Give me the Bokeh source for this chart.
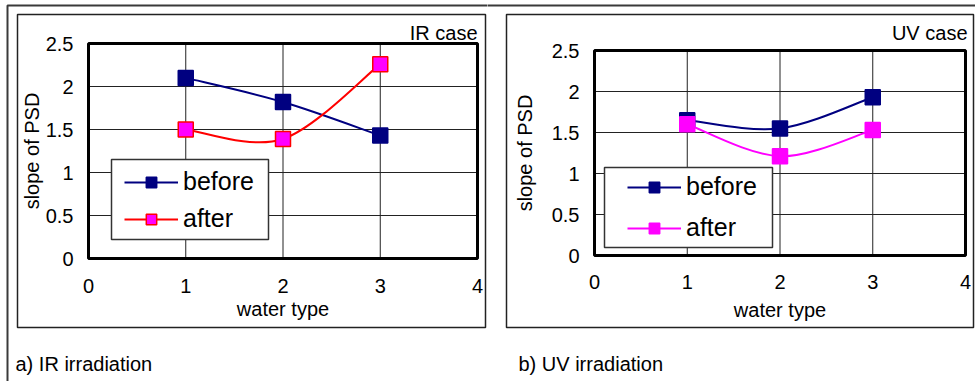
from bokeh.plotting import figure
from bokeh.layouts import row
from bokeh.models import (Range1d, FixedTicker, BoxAnnotation, Label, Legend, LegendItem,
                          ColumnDataSource)
from bokeh.embed import file_html
from bokeh.resources import INLINE

# ---- data ----
water_type = [1, 2, 3]
ir_before = [2.10, 1.82, 1.43]
ir_after = [1.50, 1.39, 2.26]
uv_before = [1.65, 1.55, 1.93]
uv_after = [1.60, 1.21, 1.53]
x_ticks = [0, 1, 2, 3, 4]
y_ticks = [0, 0.5, 1, 1.5, 2, 2.5]

FONT = "Liberation Sans"
NAVY = "#000080"
MAGENTA = "#FF00FF"
RED = "#FF0000"
H = 381


def smooth_segments(xs, ys):
    """Catmull-Rom style Bezier control points (Excel-like smoothed line)."""
    n = len(xs)
    d = dict(x0=[], y0=[], x1=[], y1=[], cx0=[], cy0=[], cx1=[], cy1=[])
    for i in range(n - 1):
        xp, yp = (xs[i - 1], ys[i - 1]) if i > 0 else (xs[i], ys[i])
        xn, yn = (xs[i + 2], ys[i + 2]) if i + 2 < n else (xs[i + 1], ys[i + 1])
        d["x0"].append(xs[i]); d["y0"].append(ys[i])
        d["x1"].append(xs[i + 1]); d["y1"].append(ys[i + 1])
        d["cx0"].append(xs[i] + (xs[i + 1] - xp) / 6.0)
        d["cy0"].append(ys[i] + (ys[i + 1] - yp) / 6.0)
        d["cx1"].append(xs[i + 1] - (xn - xs[i]) / 6.0)
        d["cy1"].append(ys[i + 1] - (yn - ys[i]) / 6.0)
    return ColumnDataSource(d)


def box(left, right, top, bottom, color, width, fill=None):
    return BoxAnnotation(left=left, right=right, top=top, bottom=bottom,
                         fill_color=fill, fill_alpha=1 if fill else 0,
                         line_color=color, line_alpha=1, line_width=width)


def panel(W, area, series, case_text, case_px, caption, cap_px, frame_px, outer_px,
          legend_px, legend_box_px, legend_spacing, xl_standoff, xa_standoff,
          yl_standoff, ya_standoff):
    xl, xr, yt, yb = area  # pixel position of x=0, x=4, y=2.5, y=0 inside this figure
    xmin, xmax = x_ticks[0], x_ticks[-1]
    ymin, ymax = y_ticks[0], y_ticks[-1]
    ppx = (xr - xl) / (xmax - xmin)
    ppy = (yb - yt) / (ymax - ymin)

    def X(px):
        return xmin + (px - xl) / ppx

    def Y(py):
        return ymin + (yb - py) / ppy

    p = figure(width=W, height=H, output_backend="svg", toolbar_location=None,
               x_range=Range1d(X(0), X(W)), y_range=Range1d(Y(H), Y(0)),
               min_border_left=0, min_border_right=0, min_border_top=0,
               min_border_bottom=0)
    p.background_fill_color = "white"
    p.border_fill_color = "white"
    p.outline_line_color = None
    p.grid.visible = False

    p.xaxis.ticker = FixedTicker(ticks=x_ticks)
    p.yaxis.ticker = FixedTicker(ticks=y_ticks)
    p.xaxis.fixed_location = ymin
    p.yaxis.fixed_location = xmin
    p.xaxis.bounds = (xmin, xmax)
    p.yaxis.bounds = (ymin, ymax)
    for ax in (p.xaxis, p.yaxis):
        ax.axis_line_color = None
        ax.major_tick_line_color = None
        ax.minor_tick_line_color = None
        ax.major_tick_out = 0
        ax.major_tick_in = 0
        ax.minor_tick_out = 0
        ax.minor_tick_in = 0
        ax.major_label_text_font = FONT
        ax.major_label_text_font_size = "20px"
        ax.major_label_text_color = "black"
        ax.axis_label_text_font = FONT
        ax.axis_label_text_font_size = "20px"
        ax.axis_label_text_font_style = "normal"
        ax.axis_label_text_color = "black"
    p.xaxis.axis_label = "water type"
    p.yaxis.axis_label = "slope of PSD"
    p.xaxis.major_label_standoff = xl_standoff
    p.xaxis.axis_label_standoff = xa_standoff
    p.yaxis.major_label_standoff = yl_standoff
    p.yaxis.axis_label_standoff = ya_standoff
    p.yaxis.major_label_orientation = "horizontal"

    # grid lines at inner ticks
    gx = [t for t in x_ticks if xmin < t < xmax]
    gy = [t for t in y_ticks if ymin < t < ymax]
    p.segment(x0=gx, y0=[ymin] * len(gx), x1=gx, y1=[ymax] * len(gx),
              line_color="#222222", line_width=1)
    p.segment(x0=[xmin] * len(gy), y0=gy, x1=[xmax] * len(gy), y1=gy,
              line_color="#222222", line_width=1)

    # outer page border (top + left) and panel frame
    ol, ot = outer_px
    p.add_layout(box(X(ol), X(W + 30), Y(ot), Y(H + 30), "#3a3a3a", 2))
    fl, fr, ft, fb = frame_px
    p.add_layout(box(X(fl), X(fr), Y(ft), Y(fb), "#222222", 1.5))
    # plot-area frame
    p.add_layout(box(xmin, xmax, ymax, ymin, "black", 3))

    items = []
    for ys, name, lcol, fcol, mline in series:
        src = smooth_segments(water_type, ys)
        bz = p.bezier(x0="x0", y0="y0", x1="x1", y1="y1", cx0="cx0", cy0="cy0",
                      cx1="cx1", cy1="cy1", source=src, line_color=lcol, line_width=2)
        sc = p.scatter(water_type, ys, marker="square", size=15, fill_color=fcol,
                       line_color=mline, line_width=1.5)
        items.append(LegendItem(label=name, renderers=[bz, sc]))

    bl, br, bt, bb = legend_box_px
    p.add_layout(box(X(bl), X(br), Y(bt), Y(bb), "#333333", 1.5, fill="white"))
    leg = Legend(items=items, location=(legend_px[0], H - legend_px[1]),
                 orientation="vertical",
                 label_text_font=FONT, label_text_font_size="25px",
                 label_text_color="black", glyph_width=54, glyph_height=26,
                 label_height=26, label_standoff=5, spacing=legend_spacing, padding=0,
                 margin=0, border_line_color=None, background_fill_alpha=0)
    p.add_layout(leg, "center")

    p.add_layout(Label(x=X(case_px[0]), y=Y(case_px[1]), text=case_text, text_font=FONT,
                       text_font_size="20px", text_align="right",
                       text_baseline="middle", text_color="black"))
    p.add_layout(Label(x=X(cap_px[0]), y=Y(cap_px[1]), text=caption, text_font=FONT,
                       text_font_size="20px", text_align="left",
                       text_baseline="middle", text_color="black"))
    return p


p1 = panel(487, (88, 477, 43, 258),
           [(ir_before, "before", NAVY, NAVY, NAVY),
            (ir_after, "after", RED, MAGENTA, RED)],
           "IR case", (477, 32), "a) IR irradiation", (15, 363),
           (17, 485, 14, 327), (7, 5),
           (124, 233), (111, 268, 159, 239), 8,
           20, 2, 15, 0)
p2 = panel(488, (107, 478, 50, 255),
           [(uv_before, "before", NAVY, NAVY, NAVY),
            (uv_after, "after", MAGENTA, MAGENTA, MAGENTA)],
           "UV case", (480, 32), "b) UV irradiation", (31, 363),
           (19, 486, 14, 327), (-30, 5),
           (140, 242), (117, 285, 167, 247), 12,
           19, 7, 15, 13)

layout = row(p1, p2, spacing=0)
open("out.html", "w").write(file_html(layout, INLINE))
